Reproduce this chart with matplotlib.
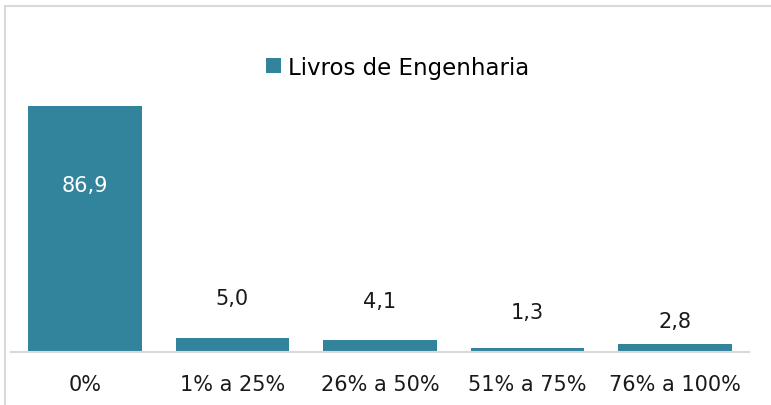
import matplotlib; matplotlib.use("Agg")
import matplotlib.pyplot as plt
from matplotlib.patches import Rectangle

TEAL = "#31849b"; GREY = "#d9d9d9"; DARK = "#1a1a1a"
categories = ["0%", "1% a 25%", "26% a 50%", "51% a 75%", "76% a 100%"]
values = [86.9, 5.0, 4.1, 1.3, 2.8]
series = "Livros de Engenharia"

plt.rcParams.update({"font.family": ["DejaVu Sans"], "font.size": 15})
fig = plt.figure(figsize=(7.71, 4.06), dpi=100)
ax = fig.add_axes([11/771, 53/406, 738/771, 283/406])

x = range(len(categories))
ax.bar(x, values, width=0.77, color=TEAL, label=series)
ax.set_xlim(-0.5, len(categories) - 0.5)
ax.set_ylim(0, 100)

# data labels: first one inside (white), rest above the bar
lab_off = [None, 14, 14, 13, 8]
for i, v in enumerate(values):
    txt = f"{v:.1f}".replace(".", ",")
    if i == 0:
        ax.text(i, v * 0.68, txt, ha="center", va="center", color="white", fontsize=15)
    else:
        ax.text(i, v + lab_off[i], txt, ha="center", va="center", color=DARK, fontsize=15)

ax.set_xticks(list(x))
ax.set_xticklabels(categories, fontsize=15, color=DARK)
ax.tick_params(axis="x", length=0, pad=16)
ax.set_yticks([])
for s in ["left", "right", "top"]:
    ax.spines[s].set_visible(False)
ax.spines["bottom"].set_color(GREY)
ax.spines["bottom"].set_linewidth(1.5)

fig.legend(loc="center", bbox_to_anchor=(398/771, 1 - 68/406), frameon=False,
           handlelength=0.65, handleheight=0.65, handletextpad=0.3, fontsize=16.5)

fig.patches.append(Rectangle((5/771, -0.1), 1.2, 1 - 7/406 + 0.1, transform=fig.transFigure,
                             fill=False, ec=GREY, lw=1.5))
fig.savefig("out.png", dpi=100)
